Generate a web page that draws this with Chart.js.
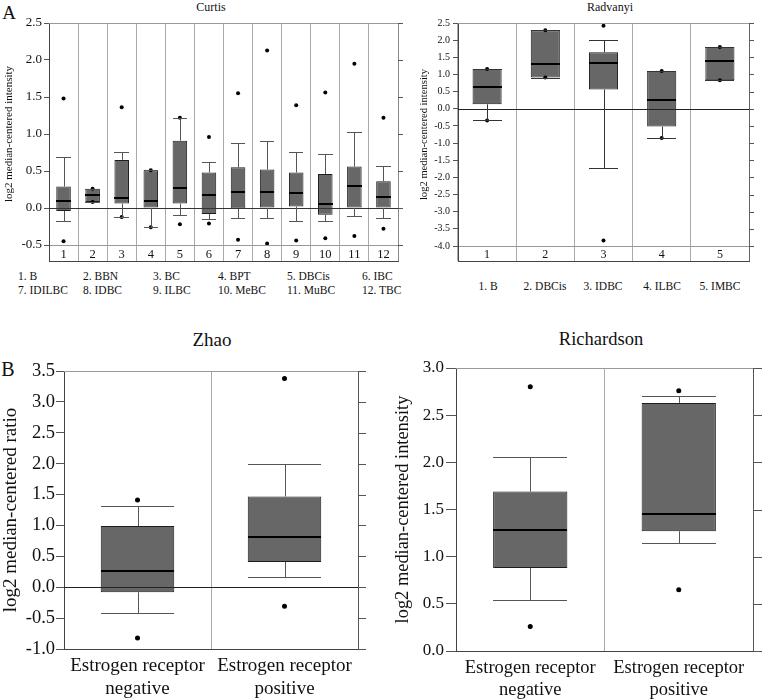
<!DOCTYPE html>
<html>
<head>
<meta charset="utf-8">
<script src="https://cdn.jsdelivr.net/npm/chart.js@4.4.1/dist/chart.umd.min.js"></script>
<style>
  body { margin: 0; background: #fff; width: 762px; height: 699px; position: relative; overflow: hidden;
         font-family: "Liberation Serif", "Times New Roman", serif; color: #111; }
  canvas { position: absolute; }
  .t { position: absolute; white-space: nowrap; line-height: 1; }
  .c { transform: translate(-50%, -50%); }
  .l { transform: translateY(-50%); }
</style>
</head>
<body>
<div class="t c" style="left:9px;top:12px;font-size:19px">A</div>
<div class="t c" style="left:211px;top:7px;font-size:12px">Curtis</div>
<div class="t c" style="left:610px;top:7px;font-size:12px">Radvanyi</div>
<div class="t c" style="left:8px;top:369px;font-size:20px">B</div>
<div class="t c" style="left:212px;top:339px;font-size:19px">Zhao</div>
<div class="t c" style="left:601px;top:339px;font-size:18.5px">Richardson</div>

<canvas id="curtis" width="410" height="263" style="left:0;top:0"></canvas>
<canvas id="radvanyi" width="382" height="263" style="left:380px;top:0"></canvas>
<canvas id="zhao" width="380" height="359" style="left:0;top:340px"></canvas>
<canvas id="richardson" width="382" height="359" style="left:380px;top:340px"></canvas>

<div id="curtisKey"></div>
<div id="radvanyiKey"></div>

<script>
// ---------- data ----------
const curtisLabels = ['1','2','3','4','5','6','7','8','9','10','11','12'];
const curtisNames  = ['1. B','2. BBN','3. BC','4. BPT','5. DBCis','6. IBC',
                      '7. IDILBC','8. IDBC','9. ILBC','10. MeBC','11. MuBC','12. TBC'];
const curtisLo    = [-0.17, 0.08, -0.12, -0.26, -0.09, -0.15, -0.13, -0.13, -0.17, -0.17, -0.11, -0.14];
const curtisQ1    = [-0.04, 0.08,  0.06,  0.00,  0.06, -0.08, -0.01,  0.00,  0.02, -0.09,  0.00,  0.00];
const curtisMed   = [ 0.10, 0.18,  0.13,  0.10,  0.27,  0.17,  0.22,  0.21,  0.20,  0.06,  0.30,  0.15];
const curtisQ3    = [ 0.29, 0.26,  0.65,  0.51,  0.91,  0.48,  0.55,  0.52,  0.48,  0.46,  0.56,  0.36];
const curtisHi    = [ 0.69, 0.26,  0.75,  0.51,  1.22,  0.62,  0.88,  0.90,  0.75,  0.73,  1.03,  0.57];
const curtisDotHi = [ 1.48, 0.26,  1.36,  0.51,  1.22,  0.96,  1.55,  2.13,  1.39,  1.56,  1.95,  1.22];
const curtisDotLo = [-0.45, 0.08, -0.12, -0.26, -0.22, -0.21, -0.43, -0.48, -0.44, -0.41, -0.38, -0.28];

const radvanyiLabels = ['1','2','3','4','5'];
const radvanyiNames  = ['1. B','2. DBCis','3. IDBC','4. ILBC','5. IMBC'];
const radvanyiLo    = [-0.34, 0.91, -1.72, -0.85, 0.83];
const radvanyiQ1    = [ 0.13, 0.91,  0.56, -0.52, 0.83];
const radvanyiMed   = [ 0.62, 1.30,  1.32,  0.27, 1.39];
const radvanyiQ3    = [ 1.16, 2.29,  1.65,  1.10, 1.80];
const radvanyiHi    = [ 1.16, 2.29,  2.01,  1.10, 1.80];
const radvanyiDotHi = [ 1.16, 2.29,  2.42,  1.10, 1.80];
const radvanyiDotLo = [-0.34, 0.91, -3.84, -0.85, 0.83];

const erLabels = [['Estrogen receptor', 'negative'], ['Estrogen receptor', 'positive']];

const zhaoLo    = [-0.42, 0.16];
const zhaoQ1    = [-0.08, 0.41];
const zhaoMed   = [ 0.27, 0.82];
const zhaoQ3    = [ 0.99, 1.47];
const zhaoHi    = [ 1.32, 1.99];
const zhaoDotHi = [ 1.41, 3.38];
const zhaoDotLo = [-0.82, -0.31];

const richLo    = [0.54, 1.15];
const richQ1    = [0.88, 1.27];
const richMed   = [1.28, 1.45];
const richQ3    = [1.69, 2.63];
const richHi    = [2.06, 2.70];
const richDotHi = [2.80, 2.76];
const richDotLo = [0.26, 0.65];

const serif = '"Liberation Serif", "Times New Roman", serif';
const px = v => Math.round(v) + 0.5;

function seg(ctx, x0, y0, x1, y1, color, w) {
  ctx.strokeStyle = color;
  ctx.lineWidth = w || 1;
  ctx.beginPath();
  ctx.moveTo(x0, y0);
  ctx.lineTo(x1, y1);
  ctx.stroke();
}

// whiskers, medians and zero line, drawn on top of the boxes
function boxPlugin(d, s) {
  return {
    id: 'boxes',
    afterDatasetsDraw(chart) {
      const { ctx, chartArea: a, scales: { y } } = chart;
      const bars = chart.getDatasetMeta(0).data;
      ctx.save();
      if (s.zero) {
        const z = px(y.getPixelForValue(0));
        seg(ctx, a.left, z, a.right, z, s.zeroColor);
      }
      bars.forEach((b, i) => {
        const x0 = Math.round(b.x - b.width / 2), x1 = Math.round(b.x + b.width / 2);
        const cx = px(b.x);
        const pLo = px(y.getPixelForValue(d.lo[i])), pHi = px(y.getPixelForValue(d.hi[i]));
        const pQ1 = y.getPixelForValue(d.q1[i]), pQ3 = y.getPixelForValue(d.q3[i]);
        seg(ctx, cx, pQ3, cx, pHi, s.whisker);
        seg(ctx, x0, pHi, x1, pHi, s.whisker);
        seg(ctx, cx, pQ1, cx, pLo, s.whisker);
        seg(ctx, x0, pLo, x1, pLo, s.whisker);
        const pMed = Math.round(y.getPixelForValue(d.med[i]));
        seg(ctx, x0, pMed, x1, pMed, '#000', 2);
      });
      ctx.restore();
    }
  };
}

// outer frame, label row and right-hand tick marks
function framePlugin(s) {
  return {
    id: 'frame',
    afterDraw(chart) {
      const { ctx, chartArea: a, scales: { y } } = chart;
      const bottom = px(a.bottom + (s.row || 0));
      ctx.save();
      seg(ctx, a.left, px(a.top), a.right + 1, px(a.top), s.topColor);
      seg(ctx, px(a.right), a.top, px(a.right), bottom, s.rightColor);
      if (s.row) {
        seg(ctx, px(a.left), a.bottom, px(a.left), bottom, s.leftColor);
        seg(ctx, a.left, bottom, a.right + 1, bottom, s.leftColor);
      }
      y.ticks.forEach(t => {
        const py = px(y.getPixelForValue(t.value));
        seg(ctx, a.right, py, a.right + s.tick, py, '#555');
      });
      ctx.restore();
    }
  };
}

function boxChart(id, d, s) {
  return new Chart(document.getElementById(id), {
    data: {
      labels: d.labels,
      datasets: [
        { type: 'bar', data: d.q1.map((v, i) => [v, d.q3[i]]), order: 2,
          backgroundColor: '#676767', borderColor: '#1c1c1c', borderWidth: 1, borderSkipped: false,
          barPercentage: 0.5, categoryPercentage: 1 },
        { type: 'line', data: d.dotHi, order: 1, showLine: false,
          pointRadius: s.dot, pointBackgroundColor: '#000', pointBorderWidth: 0 },
        { type: 'line', data: d.dotLo, order: 1, showLine: false,
          pointRadius: s.dot, pointBackgroundColor: '#000', pointBorderWidth: 0 }
      ]
    },
    options: {
      responsive: false,
      animation: false,
      devicePixelRatio: 1,
      layout: { padding: { top: s.top, right: s.right, left: 0, bottom: 0 } },
      plugins: { legend: { display: false }, tooltip: { enabled: false } },
      scales: {
        x: {
          offset: true,
          grid: { offset: true, color: '#aaa', drawTicks: !!s.row, tickLength: s.row || 0, tickColor: '#aaa' },
          border: { display: true, color: s.row ? '#999' : '#444' },
          ticks: { font: { family: serif, size: s.xFont }, color: '#111', padding: s.xPad,
                   maxRotation: 0, autoSkip: false },
          afterFit: sc => { sc.height = s.xH; }
        },
        y: {
          min: s.min, max: s.max,
          ticks: { stepSize: 0.5, callback: v => v.toFixed(1), font: { family: serif, size: s.yFont },
                   color: '#111', padding: s.yPad },
          grid: { drawOnChartArea: false, drawTicks: true, tickLength: s.tick, tickColor: '#555' },
          border: { display: true, color: '#444' },
          title: { display: true, text: s.yTitle, color: '#111', font: { family: serif, size: s.tFont },
                   padding: { top: s.tPad, bottom: 0 } },
          afterFit: sc => { sc.width = s.yW; }
        }
      }
    },
    plugins: [boxPlugin(d, s), framePlugin(s)]
  });
}

boxChart('curtis',
  { labels: curtisLabels, lo: curtisLo, q1: curtisQ1, med: curtisMed, q3: curtisQ3, hi: curtisHi,
    dotHi: curtisDotHi, dotLo: curtisDotLo },
  { min: -0.5, max: 2.5, top: 23, right: 12, yW: 49, xH: 18, row: 16, xPad: -14, xFont: 12.5,
    yFont: 13, yPad: 2, tick: 5, tFont: 11, tPad: 3, yTitle: 'log2 median-centered intensity',
    dot: 2, whisker: '#555', zero: true, zeroColor: '#333',
    topColor: '#999', rightColor: '#888', leftColor: '#444' });

boxChart('radvanyi',
  { labels: radvanyiLabels, lo: radvanyiLo, q1: radvanyiQ1, med: radvanyiMed, q3: radvanyiQ3, hi: radvanyiHi,
    dotHi: radvanyiDotHi, dotLo: radvanyiDotLo },
  { min: -4.0, max: 2.5, top: 23, right: 13, yW: 78, xH: 17, row: 15, xPad: -13, xFont: 12,
    yFont: 10, yPad: 3, tick: 5, tFont: 10.6, tPad: 38, yTitle: 'log2 median-centered intensity',
    dot: 2, whisker: '#333', zero: true, zeroColor: '#222',
    topColor: '#999', rightColor: '#666', leftColor: '#444' });

boxChart('zhao',
  { labels: erLabels, lo: zhaoLo, q1: zhaoQ1, med: zhaoMed, q3: zhaoQ3, hi: zhaoHi,
    dotHi: zhaoDotHi, dotLo: zhaoDotLo },
  { min: -1.0, max: 3.5, top: 31, right: 22, yW: 64, xH: 50, row: 0, xPad: 6, xFont: 19,
    yFont: 18.5, yPad: 1, tick: 8, tFont: 19, tPad: 0, yTitle: 'log2 median-centered ratio',
    dot: 2.5, whisker: '#555', zero: true, zeroColor: '#222',
    topColor: '#999', rightColor: '#555', leftColor: '#444' });

boxChart('richardson',
  { labels: erLabels, lo: richLo, q1: richQ1, med: richMed, q3: richQ3, hi: richHi,
    dotHi: richDotHi, dotLo: richDotLo },
  { min: 0.0, max: 3.0, top: 28, right: 9, yW: 76, xH: 48, row: 0, xPad: 6, xFont: 18.5,
    yFont: 17, yPad: 2, tick: 10, tFont: 18.4, tPad: 12, yTitle: 'log2 median-centered intensity',
    dot: 2.5, whisker: '#555', zero: false, zeroColor: '#222',
    topColor: '#999', rightColor: '#555', leftColor: '#444' });

// category keys under the top panels
const curtisX = [18, 83, 153, 218, 287, 362];
document.getElementById('curtisKey').innerHTML = curtisNames.map((n, i) =>
  `<div class="t l" style="left:${curtisX[i % 6]}px;top:${i < 6 ? 277 : 291}px;font-size:11.5px">${n}</div>`
).join('');
const radvanyiX = [488, 545, 603, 662, 720];
document.getElementById('radvanyiKey').innerHTML = radvanyiNames.map((n, i) =>
  `<div class="t c" style="left:${radvanyiX[i]}px;top:287px;font-size:11.5px">${n}</div>`
).join('');
</script>
</body>
</html>
